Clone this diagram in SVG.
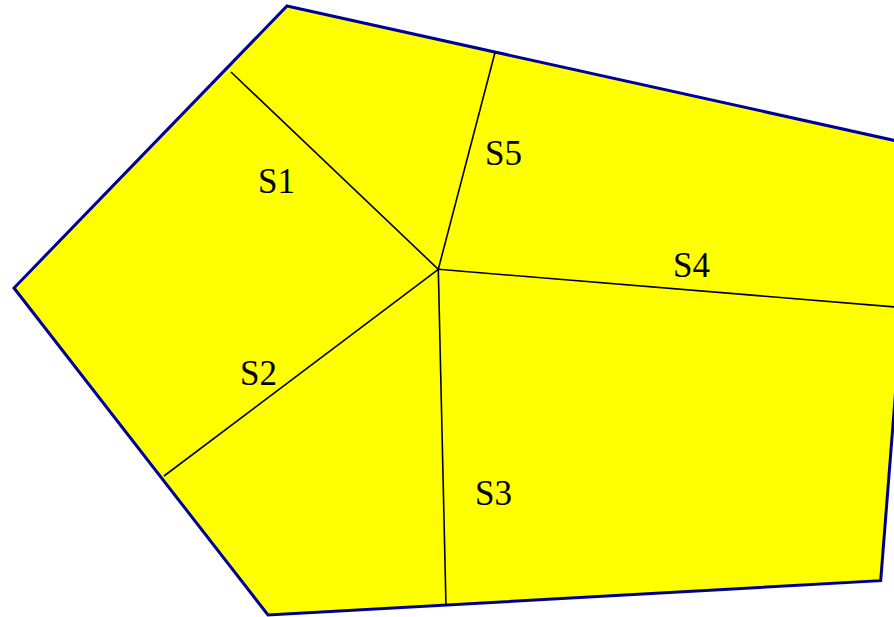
<svg xmlns="http://www.w3.org/2000/svg" width="894" height="617" viewBox="0 0 894 617">
<style>
.region{fill:#ffff00;stroke:#000099;stroke-width:3;stroke-linejoin:miter}
.seg{stroke:#000;stroke-width:1.6;fill:none}
.lbl{font-family:"Liberation Serif",serif;font-size:35px;fill:#000}
</style>
<g id="polygon">
<polygon class="region" points="287,6 915,145 880.7,580.7 268,615 14,288"/>
</g>
<g id="connectors">
<line class="seg" x1="438.3" y1="269.3" x2="231" y2="72"/>
<line class="seg" x1="438.3" y1="269.3" x2="495" y2="52.5"/>
<line class="seg" x1="438.3" y1="269.3" x2="902" y2="307.5"/>
<line class="seg" x1="438.3" y1="269.3" x2="446" y2="606"/>
<line class="seg" x1="438.3" y1="269.3" x2="164" y2="476"/>
</g>
<g id="labels">
<text class="lbl" x="258" y="193">S1</text>
<text class="lbl" x="240" y="385">S2</text>
<text class="lbl" x="475" y="505">S3</text>
<text class="lbl" x="673" y="277">S4</text>
<text class="lbl" x="485" y="165">S5</text>
</g>
</svg>
